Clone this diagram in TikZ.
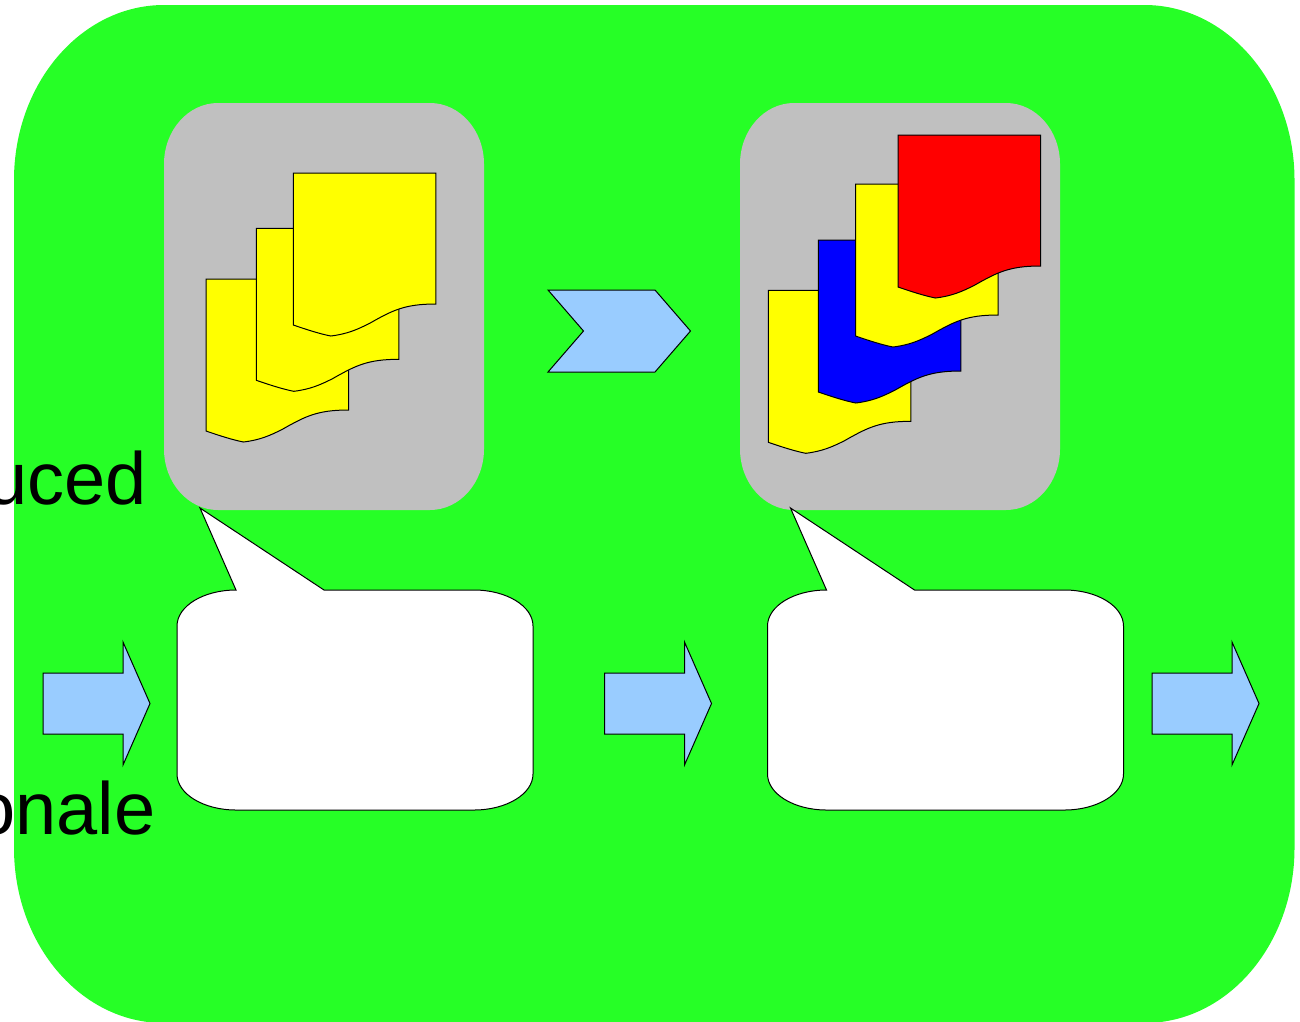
\documentclass[tikz,border=0pt]{standalone}
\usepackage{fontspec}
\setmainfont{Liberation Sans}
\definecolor{panelgreen}{HTML}{26FF26}
\definecolor{panelgray}{HTML}{C0C0C0}
\definecolor{arrowblue}{HTML}{99CCFF}
\definecolor{pageyellow}{HTML}{FFFF00}
\definecolor{pageblue}{HTML}{0000FF}
\definecolor{pagered}{HTML}{FF0000}
\tikzset{
  outline/.style={draw=black,line width=1pt,line join=miter},
  label/.style={font=\fontsize{74}{74}\selectfont,inner sep=0pt,text=black},
}
% rounded rectangle with elliptical corners: x0,y0,x1,y1,rx,ry
\newcommand{\ovalbox}[7]{%
  \path[#7] (#1,#2+#6) arc[start angle=180,end angle=270,x radius=#5,y radius=#6]
    -- (#3-#5,#2) arc[start angle=270,end angle=360,x radius=#5,y radius=#6]
    -- (#3,#4-#6) arc[start angle=0,end angle=90,x radius=#5,y radius=#6]
    -- (#1+#5,#4) arc[start angle=90,end angle=180,x radius=#5,y radius=#6] -- cycle;}
% page shape with wavy foot: left, top, colour
\newcommand{\pageshape}[3]{%
  \path[outline,fill=#3,shift={(#1,#2)}] (0,0) -- (142.5,0) -- (142.5,131)
    .. controls (111,131) and (99,137.5) .. (76,150.5)
    .. controls (64,156.5) and (54,161) .. (37.5,163)
    .. controls (27,161) and (13,156.5) .. (0,152) -- cycle;}
% block arrow: left edge
\newcommand{\blockarrow}[1]{%
  \path[outline,fill=arrowblue,shift={(#1,0)}] (0,673) -- (80,673) -- (80,642)
    -- (107,703.5) -- (80,765) -- (80,734) -- (0,734) -- cycle;}
% speech bubble: horizontal offset
\newcommand{\bubble}[1]{%
  \path[outline,fill=white,shift={(#1,0)}] (236,590) -- (200,508) -- (324,590)
    -- (474,590) arc[start angle=270,end angle=360,x radius=59,y radius=36]
    -- (533,774) arc[start angle=0,end angle=90,x radius=59,y radius=36]
    -- (236,810) arc[start angle=90,end angle=180,x radius=59,y radius=36]
    -- (177,626) arc[start angle=180,end angle=270,x radius=59,y radius=36] -- cycle;}
\begin{document}
\begin{tikzpicture}[x=1pt,y=-1pt]
\useasboundingbox (0,0) rectangle (1300,1021);
\clip (0,0) rectangle (1300,1021);
\ovalbox{14}{5}{1294.5}{1023}{150}{175}{fill=panelgreen}
\ovalbox{164}{103}{484}{510}{54}{61}{fill=panelgray}
\ovalbox{740}{103}{1060}{510}{54}{61}{fill=panelgray}
\pageshape{206}{279}{pageyellow}
\pageshape{256.3}{228.3}{pageyellow}
\pageshape{293.3}{173}{pageyellow}
\pageshape{768.3}{290.3}{pageyellow}
\pageshape{818.3}{240}{pageblue}
\pageshape{855.5}{184}{pageyellow}
\pageshape{898}{135}{pagered}
\path[outline,fill=arrowblue] (548,290) -- (655,290) -- (690.5,331) -- (655,372) -- (548,372) -- (583.5,331) -- cycle;
\blockarrow{43}
\blockarrow{604.5}
\blockarrow{1152}
\bubble{0}
\bubble{590.5}
\node[label,anchor=base east] (reduced) at (147,504) {uced};
\node[label,anchor=base east] (rationale) at (155.5,834) {onale};
\end{tikzpicture}
\end{document}
